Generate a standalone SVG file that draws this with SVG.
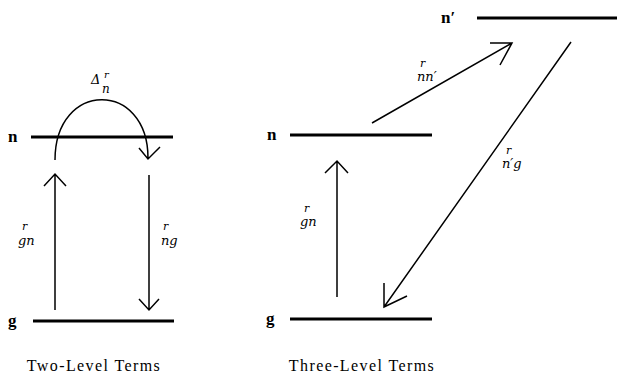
<svg xmlns="http://www.w3.org/2000/svg" width="617" height="375" viewBox="0 0 617 375">
<style>
.lvl{stroke:#000;stroke-width:3;fill:none}
.arr{stroke:#000;stroke-width:1.5;fill:none}
.lab{font-family:"Liberation Serif",serif;font-size:17px;font-weight:bold;fill:#000}
.r{font-family:"DejaVu Serif","Liberation Serif",serif;font-style:italic;fill:#000}
.cap{font-family:"Liberation Serif",serif;font-size:16px;letter-spacing:1.4px;fill:#000;text-anchor:middle}
</style>
<rect width="617" height="375" fill="#fff"/>
<g id="two-n"><line class="lvl" x1="31" y1="137" x2="173" y2="137"/><text class="lab" x="8" y="142">n</text></g>
<g id="two-g"><line class="lvl" x1="33" y1="321" x2="174" y2="321"/><text class="lab" x="8" y="326">g</text></g>
<g id="three-n"><line class="lvl" x1="290" y1="135" x2="432" y2="135"/><text class="lab" x="267" y="140">n</text></g>
<g id="three-g"><line class="lvl" x1="290" y1="319" x2="432" y2="319"/><text class="lab" x="266" y="324">g</text></g>
<g id="three-nprime"><line class="lvl" x1="477" y1="18" x2="617" y2="18"/><text class="lab" x="441" y="23">n′</text></g>
<g id="connectors">
<path class="arr" d="M55 310 V174 M44 186 L55 174 L66 186"/>
<path class="arr" d="M55 160 C55 80 148 80 148 158 M139 148 L148 159 L160 147"/>
<path class="arr" d="M149 175 V310 M139 299 L149 310 L159 299"/>
<path class="arr" d="M337 297 V161 M325 173 L337 161 L348 173"/>
<path class="arr" d="M372 123 L512 43 M490 43 L512 43 L500 65"/>
<path class="arr" d="M571 42 L384 307 M384 283 L384 307 L407 296"/>
</g>
<g id="labels">
<text class="r" x="91" y="84" font-size="13">Δ</text><text class="r" x="104" y="78" font-size="10">r</text><text class="r" x="102" y="93" font-size="12">n</text>
<text class="r" x="22" y="230" font-size="11">r</text><text class="r" x="18" y="245" font-size="13">gn</text>
<text class="r" x="163" y="230" font-size="11">r</text><text class="r" x="161" y="245" font-size="13">ng</text>
<text class="r" x="304" y="212" font-size="11">r</text><text class="r" x="300" y="226" font-size="13">gn</text>
<text class="r" x="420" y="67" font-size="11">r</text><text class="r" x="417" y="81" font-size="13">nn′</text>
<text class="r" x="506" y="154" font-size="11">r</text><text class="r" x="502" y="168" font-size="13">n′g</text>
</g>
<text class="cap" x="94" y="371">Two-Level Terms</text>
<text class="cap" x="362" y="371">Three-Level Terms</text>
</svg>
